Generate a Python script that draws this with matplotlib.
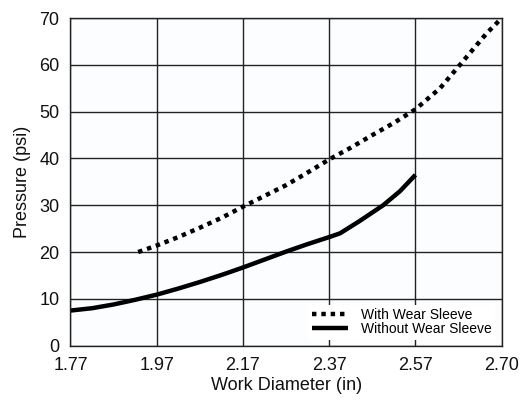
import numpy as np
import matplotlib
matplotlib.use("Agg")
import matplotlib.pyplot as plt

plt.rcParams['font.family'] = ['Liberation Sans', 'DejaVu Sans']

# Tick values on the work-diameter axis (evenly spaced on the page)
x_ticks = [1.77, 1.97, 2.17, 2.37, 2.57, 2.70]
x_tick_labels = ["1.77", "1.97", "2.17", "2.37", "2.57", "2.70"]
y_ticks = [0, 10, 20, 30, 40, 50, 60, 70]

# With wear sleeve
with_x = [1.927, 1.97, 2.02, 2.07, 2.12, 2.17, 2.22, 2.27, 2.32, 2.37,
          2.42, 2.47, 2.52, 2.57, 2.607, 2.637, 2.677, 2.70]
with_y = [20.0, 21.4, 23.2, 25.2, 27.3, 29.7, 32.0, 34.3, 37.0, 39.8,
          42.3, 45.0, 47.6, 50.5, 55.0, 60.0, 66.7, 70.0]

# Without wear sleeve
without_x = [1.77, 1.82, 1.87, 1.92, 1.97, 2.02, 2.07, 2.12, 2.17, 2.22,
             2.27, 2.32, 2.37, 2.395, 2.44, 2.495, 2.534, 2.57]
without_y = [7.5, 8.0, 8.8, 9.8, 10.9, 12.2, 13.6, 15.1, 16.7, 18.4,
             20.1, 21.7, 23.2, 24.0, 26.6, 30.0, 33.0, 36.5]

tick_pos = np.arange(len(x_ticks), dtype=float)


def fwd(x):
    return np.interp(x, x_ticks, tick_pos)


def inv(p):
    return np.interp(p, tick_pos, x_ticks)


fig = plt.figure(figsize=(5.21, 4.01), dpi=100)
ax = fig.add_axes([0.1353, 0.138, 0.8277, 0.817])
ax.set_facecolor('#fcfdfe')
ax.set_xscale('function', functions=(fwd, inv))
ax.set_xlim(x_ticks[0], x_ticks[-1])
ax.set_ylim(0, 70)
ax.set_xticks(x_ticks)
ax.set_xticklabels(x_tick_labels)
ax.set_yticks(y_ticks)
ax.minorticks_off()

ax.grid(True, color='#222222', linewidth=1.0)
ax.set_axisbelow(True)
for s in ax.spines.values():
    s.set_color('#222222')
    s.set_linewidth(1.0)

ax.tick_params(axis='both', length=0, labelsize=13, pad=8, colors='#111111')

ax.plot(with_x, with_y, color='black', linewidth=3.2, linestyle=(0, (1, 1.1)),
        dash_capstyle='butt', label='With Wear Sleeve')
ax.plot(without_x, without_y, color='black', linewidth=3.2,
        solid_capstyle='butt', label='Without Wear Sleeve')

ax.set_xlabel('Work Diameter (in)', fontsize=13, labelpad=2, color='#111111')
ax.set_ylabel('Pressure (psi)', fontsize=13, labelpad=6, color='#111111')

leg = ax.legend(loc='lower right', fontsize=10, frameon=True, framealpha=1,
                facecolor='white', edgecolor='none', fancybox=False,
                handlelength=2.6, handletextpad=0.9, labelspacing=0.0,
                borderpad=0.25, bbox_to_anchor=(1.0, -0.003))

fig.savefig('out.png', dpi=100)
